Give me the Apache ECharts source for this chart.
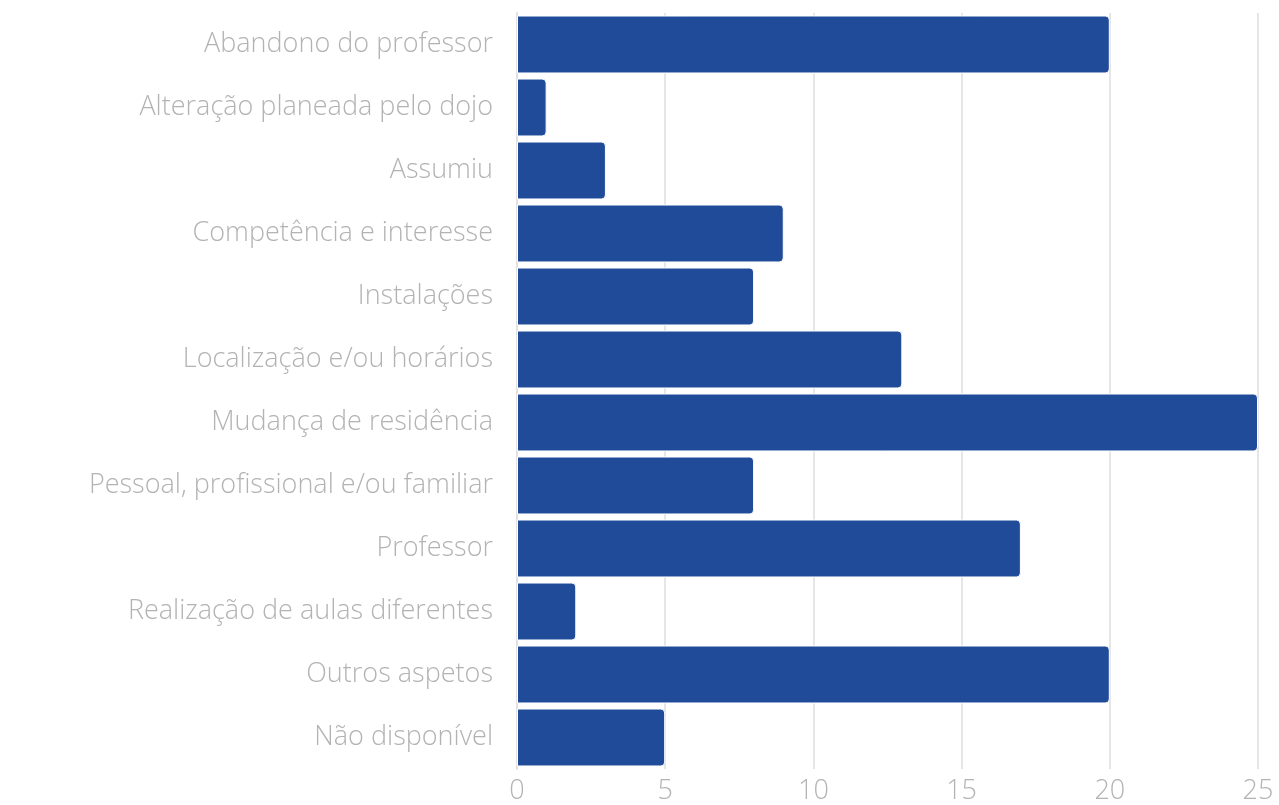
<!DOCTYPE html>
<html><head><meta charset="utf-8">
<script src="https://cdn.jsdelivr.net/npm/echarts@6/dist/echarts.min.js"></script>
<style>html,body{margin:0;padding:0;background:#fff}#c{width:1279px;height:805px}</style>
</head><body><div id="c"></div>
<script>
const categories = ["Abandono do professor","Alteração planeada pelo dojo","Assumiu","Competência e interesse","Instalações","Localização e/ou horários","Mudança de residência","Pessoal, profissional e/ou familiar","Professor","Realização de aulas diferentes","Outros aspetos","Não disponível"];
const values = [20,1,3,9,8,13,25,8,17,2,20,5];
const xTicks = [0,5,10,15,20,25];
const chart = echarts.init(document.getElementById('c'));
const font = '"Open Sans", "Noto Sans", sans-serif';
chart.setOption({
  animation:false,
  grid:{left:517,right:21,top:13,bottom:36,containLabel:false},
  xAxis:{type:'value',min:xTicks[0],max:xTicks[xTicks.length-1],interval:5,
    axisLine:{show:false},axisTick:{show:false},
    splitLine:{show:true,lineStyle:{color:'#e6e6e6',width:2}},
    axisLabel:{color:'#b3b3b3',fontSize:27,fontFamily:font,fontWeight:300,margin:9,
      formatter:v=>xTicks.includes(v)?String(v):''}},
  yAxis:{type:'category',data:categories,inverse:true,
    axisLine:{show:true,lineStyle:{color:'#e0e0e0',width:2}},axisTick:{show:false},
    axisLabel:{color:'#b3b3b3',fontSize:27,fontFamily:font,fontWeight:300,margin:24}},
  series:[{type:'bar',data:values,barCategoryGap:'8%',
    itemStyle:{color:'#1f4b99',borderColor:'#ffffff',borderWidth:1,borderRadius:[0,4,4,0]}}]
});
</script></body></html>
